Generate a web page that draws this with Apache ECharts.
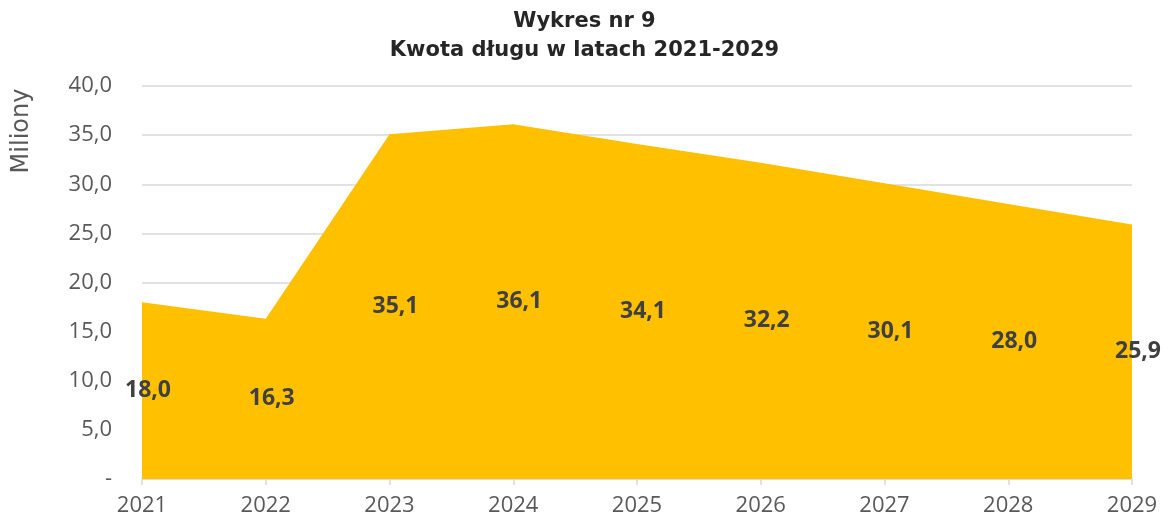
<!DOCTYPE html>
<html><head><meta charset="utf-8">
<script src="https://cdn.jsdelivr.net/npm/echarts@6/dist/echarts.min.js"></script>
<style>html,body{margin:0;padding:0;background:#fff}#c{width:1169px;height:517px}</style>
</head><body><div id="c"></div>
<script>
var years = ['2021','2022','2023','2024','2025','2026','2027','2028','2029'];
var debt = [18.0, 16.3, 35.1, 36.1, 34.1, 32.2, 30.1, 28.0, 25.9];
var titleText = 'Wykres nr 9\nKwota długu w latach 2021-2029';
var yName = 'Miliony';

function fmt(v){ return v === 0 ? '-' : v.toFixed(1).replace('.', ','); }
var FONT = 'Open Sans';
var TFONT = 'DejaVu Sans';
var chart = echarts.init(document.getElementById('c'));
chart.setOption({
  animation: false,
  textStyle: {fontFamily: FONT},
  title: {text: titleText, left: 'center', top: 2,
    textStyle: {fontFamily: TFONT, fontSize: 21, fontWeight: 'bold', color: '#262626', lineHeight: 29}},
  graphic: [{type: 'text', x: 22, y: 131, rotation: Math.PI/2,
    style: {text: yName, fill: '#595959', font: '24px "DejaVu Sans"', textAlign: 'center', textVerticalAlign: 'middle'}}],
  grid: {left: 142, right: 37, top: 86, bottom: 38},
  xAxis: {type: 'category', data: years, boundaryGap: false,
    axisLine: {lineStyle: {color: '#d9d9d9', width: 1.5}},
    axisTick: {show: true, length: 6, lineStyle: {color: '#d9d9d9', width: 1.5}},
    axisLabel: {color: '#595959', fontSize: 22, margin: 16, fontFamily: FONT}},
  yAxis: {type: 'value', min: 0, max: 40, interval: 5,
    axisLine: {show: false}, axisTick: {show: false},
    splitLine: {lineStyle: {color: '#d9d9d9', width: 1.5}},
    axisLabel: {color: '#595959', fontSize: 22, margin: 30, fontFamily: FONT, formatter: fmt}},
  series: [
    {type: 'line', data: debt, symbol: 'none', lineStyle: {width: 0},
     areaStyle: {color: '#FFC000', opacity: 1}, z: 2},
    {type: 'scatter', symbolSize: 0, z: 5, itemStyle: {opacity: 1},
     data: debt.map(function(v, i){ return [i, v / 2]; }),
     label: {show: true, position: 'inside', offset: [6, 0], opacity: 1,
       formatter: function(p){ return fmt(debt[p.dataIndex]); },
       fontSize: 23, fontWeight: 'bold', color: '#404040', fontFamily: FONT}}
  ]
});
</script></body></html>
